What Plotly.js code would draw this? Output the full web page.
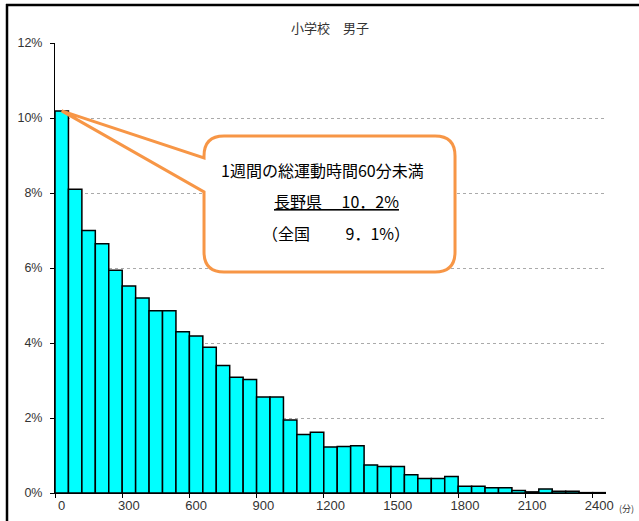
<!DOCTYPE html>
<html>
<head>
<meta charset="utf-8">
<script src="https://cdn.plot.ly/plotly-3.0.1.min.js"></script>
<style>
html,body{margin:0;padding:0;background:#fff;}
#chart{width:639px;height:521px;}
</style>
</head>
<body>
<div id="chart"></div>
<script>
// ---- data ----
var minutes = [0,60,120,180,240,300,360,420,480,540,600,660,720,780,840,900,960,1020,1080,1140,1200,1260,1320,1380,1440,1500,1560,1620,1680,1740,1800,1860,1920,1980,2040,2100,2160,2220,2280,2340,2400];
var percents = [10.19,8.10,7.00,6.65,5.94,5.52,5.20,4.86,4.86,4.30,4.19,3.89,3.40,3.09,3.03,2.56,2.56,1.95,1.56,1.62,1.23,1.24,1.26,0.75,0.71,0.71,0.49,0.39,0.39,0.44,0.18,0.18,0.14,0.14,0.07,0.03,0.11,0.05,0.05,0.01,0.01];
var xTickVals = [0,300,600,900,1200,1500,1800,2100,2400];
var xTickText = ['0','300','600','900','1200','1500','1800','2100','2400'];
var yTickVals = [0,2,4,6,8,10,12];
var yTickText = ['0%','2%','4%','6%','8%','10%','12%'];
var chartTitle = '小学校　男子';
var calloutLines = ['1週間の総運動時間60分未満', '<u>長野県　 10．2%</u>', '（全国　　 9．1%）'];
var unitLabel = '(分)';
var highlightIndex = 0;

// ---- layout geometry ----
var W = 639, H = 521;
var M = {l:55, r:33, t:43, b:28};
var pw = W - M.l - M.r, ph = H - M.t - M.b;
var xRange = [-30, 2430], yRange = [0, 12];
function px2paperX(x){ return (x - M.l) / pw; }
function px2paperY(y){ return (H - M.b - y) / ph; }

// tip pixel from data
var tipX = M.l + (minutes[highlightIndex] - xRange[0]) / (xRange[1]-xRange[0]) * pw;
var tipY = M.t + (yRange[1] - percents[highlightIndex]) / (yRange[1]-yRange[0]) * ph;
function rel(x, y){ return (x - tipX).toFixed(1) + ',' + (tipY - y).toFixed(1); }

var bl = 204, bt = 136, br = 455, bb = 272, rr = 20;
var calloutPath = 'M0,0 L' + rel(bl, 158) +
  ' L' + rel(bl, bt+rr) +
  ' Q' + rel(bl, bt) + ' ' + rel(bl+rr, bt) +
  ' L' + rel(br-rr, bt) +
  ' Q' + rel(br, bt) + ' ' + rel(br, bt+rr) +
  ' L' + rel(br, bb-rr) +
  ' Q' + rel(br, bb) + ' ' + rel(br-rr, bb) +
  ' L' + rel(bl+rr, bb) +
  ' Q' + rel(bl, bb) + ' ' + rel(bl, bb-rr) +
  ' L' + rel(bl, 192) + ' Z';

var trace = {
  type: 'bar',
  x: minutes,
  y: percents,
  width: 60,
  marker: {color: '#00FFFF', line: {color: '#000000', width: 1.5}},
  hoverinfo: 'x+y'
};

var cjk = '"Noto Sans CJK JP", "Noto Sans", sans-serif';
var latin = '"Liberation Sans", Arial, sans-serif';

var layout = {
  width: W, height: H,
  margin: M,
  paper_bgcolor: '#ffffff',
  plot_bgcolor: '#ffffff',
  showlegend: false,
  bargap: 0,
  title: {
    text: chartTitle,
    font: {family: cjk, size: 13, color: '#333333'},
    x: px2paperX(330), xref: 'paper', xanchor: 'center',
    y: 1 - 28 / H, yref: 'container', yanchor: 'middle'
  },
  xaxis: {
    range: xRange,
    tickmode: 'array',
    tickvals: xTickVals,
    ticktext: xTickText,
    ticks: '',
    showgrid: false,
    zeroline: false,
    showline: true,
    linecolor: '#000000',
    linewidth: 1,
    tickfont: {family: latin, size: 13, color: '#333333'},
    minor: {ticks: 'outside', tick0: -30, dtick: 300, ticklen: 4, tickcolor: '#000000', showgrid: false}
  },
  yaxis: {
    range: yRange,
    tickmode: 'array',
    tickvals: yTickVals,
    ticktext: yTickText,
    ticks: 'outside',
    ticklen: 4,
    tickcolor: '#000000',
    ticklabelstandoff: 5,
    showgrid: true,
    gridcolor: '#aaaaaa',
    griddash: 'dot',
    gridwidth: 1,
    zeroline: false,
    showline: true,
    linecolor: '#000000',
    linewidth: 1,
    tickfont: {family: latin, size: 12.5, color: '#333333'}
  },
  shapes: [
    {
      type: 'path', xref: 'x', yref: 'y',
      xsizemode: 'pixel', ysizemode: 'pixel',
      xanchor: minutes[highlightIndex], yanchor: percents[highlightIndex],
      path: calloutPath,
      line: {color: '#F79646', width: 3},
      fillcolor: '#ffffff',
      layer: 'above'
    },
    {type: 'line', xref: 'paper', yref: 'paper', x0: px2paperX(6), x1: px2paperX(640), y0: px2paperY(5), y1: px2paperY(5), line: {color: '#000000', width: 2.5}},
    {type: 'line', xref: 'paper', yref: 'paper', x0: px2paperX(7), x1: px2paperX(7), y0: px2paperY(4), y1: px2paperY(522), line: {color: '#000000', width: 2.5}}
  ],
  annotations: [
    {xref: 'paper', yref: 'paper', x: px2paperX(322), y: px2paperY(170), xanchor: 'center', yanchor: 'middle',
     text: calloutLines[0], showarrow: false, font: {family: cjk, size: 16, color: '#000000'}},
    {xref: 'paper', yref: 'paper', x: px2paperX(336), y: px2paperY(201), xanchor: 'center', yanchor: 'middle',
     text: calloutLines[1], showarrow: false, font: {family: cjk, size: 16, color: '#000000'}},
    {xref: 'paper', yref: 'paper', x: px2paperX(336), y: px2paperY(233), xanchor: 'center', yanchor: 'middle',
     text: calloutLines[2], showarrow: false, font: {family: cjk, size: 16, color: '#000000'}},
    {xref: 'paper', yref: 'paper', x: px2paperX(617), y: px2paperY(508), xanchor: 'left', yanchor: 'middle',
     text: unitLabel, showarrow: false, font: {family: cjk, size: 9, color: '#333333'}}
  ]
};

Plotly.newPlot('chart', [trace], layout, {staticPlot: true, displayModeBar: false});
</script>
</body>
</html>
